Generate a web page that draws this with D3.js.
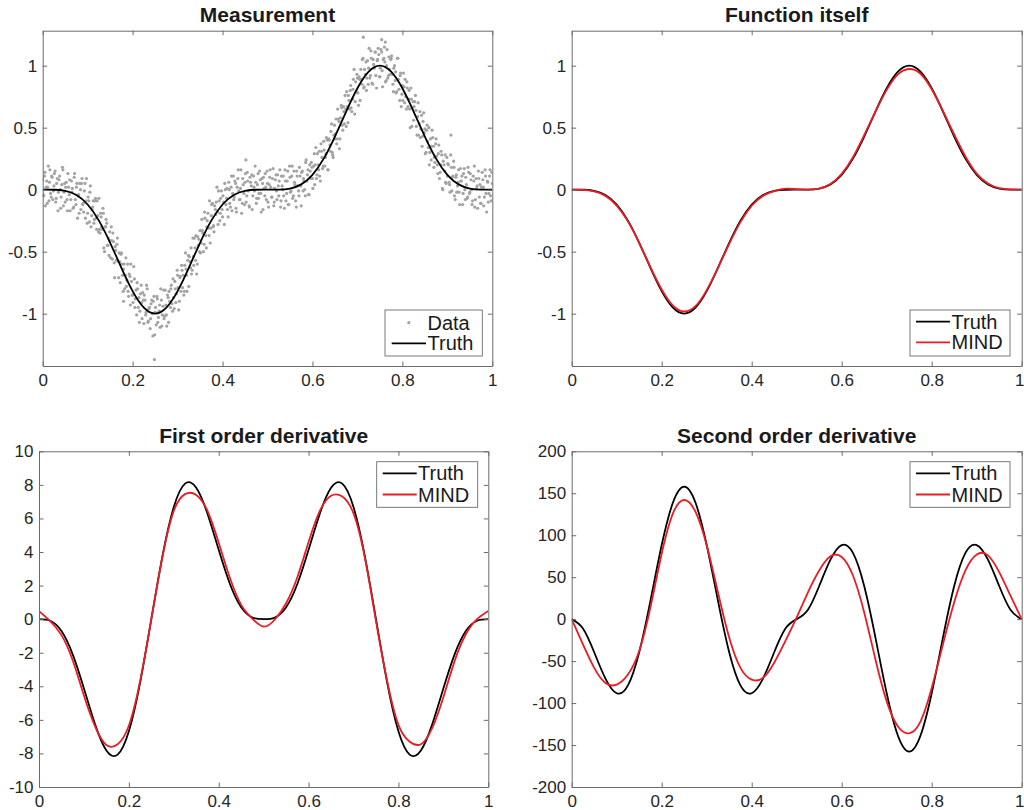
<!DOCTYPE html>
<html lang="en">
<head>
<meta charset="UTF-8">
<title>Measurement and derivatives</title>
<script src="https://d3js.org/d3.v7.min.js"></script>
<style>
  body { margin: 0; background: #fff; }
  svg { display: block; font-family: "Liberation Sans", Arial, Helvetica, sans-serif; }
  .tick text { fill: #262626; font-size: 17px; font-family: "Liberation Sans", Arial, Helvetica, sans-serif; }
  .axis path, .axis line { stroke: #6b6b6b; }
  .title { font-weight: bold; font-size: 21px; fill: #1a1a1a; }
  .legend text { font-size: 20px; fill: #1a1a1a; }
</style>
</head>
<body>
<div id="chart"></div>
<script>
// sample grid for the smooth curves
const xGrid = [0, 0.025, 0.05, 0.075, 0.1, 0.125, 0.15, 0.175, 0.2, 0.225, 0.25,
  0.275, 0.3, 0.325, 0.35, 0.375, 0.4, 0.425, 0.45, 0.475, 0.5,
  0.525, 0.55, 0.575, 0.6, 0.625, 0.65, 0.675, 0.7, 0.725, 0.75,
  0.775, 0.8, 0.825, 0.85, 0.875, 0.9, 0.925, 0.95, 0.975, 1];

// function itself
const truthF = [0, -0.0006, -0.0091, -0.0425, -0.1194, -0.25, -0.4284, -0.6303, -0.8182, -0.9517, -1,
  -0.9517, -0.8182, -0.6303, -0.4284, -0.25, -0.1194, -0.0425, -0.0091, -0.0006, 0,
  0.0006, 0.0091, 0.0425, 0.1194, 0.25, 0.4284, 0.6303, 0.8182, 0.9517, 1,
  0.9517, 0.8182, 0.6303, 0.4284, 0.25, 0.1194, 0.0425, 0.0091, 0.0006, 0];
const mindF = [0, -0.002, -0.014, -0.05, -0.128, -0.256, -0.43, -0.625, -0.805, -0.935, -0.982,
  -0.94, -0.81, -0.63, -0.437, -0.262, -0.13, -0.05, -0.012, 0.008, 0.004,
  0.0, 0.008, 0.045, 0.128, 0.262, 0.44, 0.63, 0.805, 0.93, 0.973,
  0.935, 0.81, 0.635, 0.445, 0.268, 0.13, 0.05, 0.012, 0.002, 0];

// first order derivative
const truthD1 = [0, -0.095, -0.705, -2.095, -4.13, -6.283, -7.822, -8.072, -6.681, -3.788, 0,
  3.788, 6.681, 8.072, 7.822, 6.283, 4.13, 2.095, 0.705, 0.095, 0,
  0.095, 0.705, 2.095, 4.13, 6.283, 7.822, 8.072, 6.681, 3.788, 0,
  -3.788, -6.681, -8.072, -7.822, -6.283, -4.13, -2.095, -0.705, -0.095, 0];
const mindD1 = [0.48, -0.12, -0.95, -2.45, -4.55, -6.4, -7.5, -7.45, -6.35, -3.7, 0,
  3.75, 6.45, 7.45, 7.4, 6.45, 4.55, 2.45, 0.85, 0.02, -0.45,
  -0.02, 0.95, 2.5, 4.6, 6.45, 7.35, 7.3, 6.3, 3.7, -0.1,
  -3.7, -6.3, -7.3, -7.45, -6.5, -4.65, -2.5, -0.9, 0.0, 0.49];

// second order derivative
const truthD2 = [0, -11.21, -39.48, -70.81, -88.28, -78.96, -39.48, 22.01, 88.28, 138.95, 157.91,
  138.95, 88.28, 22.01, -39.48, -78.96, -88.28, -70.81, -39.48, -11.21, 0,
  11.21, 39.48, 70.81, 88.28, 78.96, 39.48, -22.01, -88.28, -138.95, -157.91,
  -138.95, -88.28, -22.01, 39.48, 78.96, 88.28, 70.81, 39.48, 11.21, 0];
const mindD2 = [0, -30, -58, -76, -78, -66, -38, 14, 78, 126, 142,
  128, 88, 32, -22, -58, -72, -70, -52, -26, 2,
  32, 58, 75, 74, 52, 8, -48, -98, -128, -136,
  -122, -82, -30, 20, 58, 77, 76, 56, 28, 0];

// noisy measurement [x, y]
const measurement = [
  [0,0.08],[0.0025,-0.05],[0.005,0.14],[0.0075,0.02],[0.01,-0.11],[0.0125,0.19],[0.015,0.06],[0.0175,-0.03],[0.02,0.11],[0.0225,-0.08],
  [0.025,0.03],[0.0275,0.15],[0.03,-0.07],[0.0325,0.09],[0.035,-0.02],[0.0375,0.11],[0.04,-0.15],[0.0425,0.04],[0.045,0.16],[0.0475,-0.02],
  [0.05,-0.10],[0.0525,0.06],[0.055,-0.17],[0.0575,0.02],[0.06,0.08],[0.0625,-0.08],[0.065,-0.02],[0.0675,-0.15],[0.07,0.10],[0.0725,-0.08],
  [0.075,0.02],[0.0775,-0.23],[0.08,-0.04],[0.0825,0.05],[0.085,-0.16],[0.0875,0.09],[0.09,-0.11],[0.0925,-0.01],[0.095,-0.23],[0.0975,0.09],
  [0.1,-0.19],[0.1025,-0.09],[0.105,-0.02],[0.1075,-0.30],[0.11,-0.16],[0.1125,-0.09],[0.115,-0.24],[0.1175,-0.07],[0.12,-0.32],[0.1225,-0.21],
  [0.125,-0.07],[0.1275,-0.35],[0.13,-0.22],[0.1325,-0.32],[0.135,-0.19],[0.1375,-0.50],[0.14,-0.30],[0.1425,-0.27],[0.145,-0.45],[0.1475,-0.53],
  [0.15,-0.41],[0.1525,-0.30],[0.155,-0.56],[0.1575,-0.42],[0.16,-0.71],[0.1625,-0.49],[0.165,-0.44],[0.1675,-0.58],[0.17,-0.51],[0.1725,-0.75],
  [0.175,-0.51],[0.1775,-0.69],[0.18,-0.64],[0.1825,-0.80],[0.185,-0.55],[0.1875,-0.73],[0.19,-0.82],[0.1925,-0.68],[0.195,-0.93],[0.1975,-0.74],
  [0.2,-0.85],[0.2025,-0.62],[0.205,-0.95],[0.2075,-0.81],[0.21,-0.75],[0.2125,-0.95],[0.215,-1.07],[0.2175,-0.84],[0.22,-0.91],[0.2225,-0.83],
  [0.225,-1.08],[0.2275,-0.89],[0.23,-0.99],[0.2325,-0.80],[0.235,-1.06],[0.2375,-0.95],[0.24,-1.04],[0.2425,-0.89],[0.245,-1.18],[0.2475,-0.86],
  [0.25,-0.99],[0.2525,-1.09],[0.255,-0.88],[0.2575,-1.03],[0.26,-0.93],[0.2625,-0.80],[0.265,-1.10],[0.2675,-0.94],[0.27,-1.04],[0.2725,-0.81],
  [0.275,-1.01],[0.2775,-0.85],[0.28,-1.07],[0.2825,-0.90],[0.285,-0.80],[0.2875,-0.92],[0.29,-0.72],[0.2925,-0.96],[0.295,-0.80],[0.2975,-0.84],
  [0.3,-0.69],[0.3025,-0.97],[0.305,-0.71],[0.3075,-0.82],[0.31,-0.65],[0.3125,-0.69],[0.315,-0.82],[0.3175,-0.51],[0.32,-0.69],[0.3225,-0.57],
  [0.325,-0.78],[0.3275,-0.58],[0.33,-0.47],[0.3325,-0.65],[0.335,-0.54],[0.3375,-0.39],[0.34,-0.57],[0.3425,-0.68],[0.345,-0.38],[0.3475,-0.40],
  [0.35,-0.33],[0.3525,-0.43],[0.355,-0.33],[0.3575,-0.50],[0.36,-0.18],[0.3625,-0.37],[0.365,-0.30],[0.3675,-0.19],[0.37,-0.37],[0.3725,-0.43],
  [0.375,-0.21],[0.3775,-0.11],[0.38,-0.29],[0.3825,-0.13],[0.385,-0.20],[0.3875,0.02],[0.39,-0.28],[0.3925,-0.09],[0.395,-0.19],[0.3975,-0.01],
  [0.4,-0.22],[0.4025,-0.10],[0.405,0.05],[0.4075,-0.12],[0.41,0.01],[0.4125,-0.22],[0.415,0.00],[0.4175,-0.14],[0.42,0.11],[0.4225,-0.03],
  [0.425,-0.08],[0.4275,0.07],[0.43,-0.15],[0.4325,0.02],[0.435,0.16],[0.4375,-0.08],[0.44,0.01],[0.4425,-0.19],[0.445,0.09],[0.4475,-0.03],
  [0.45,0.06],[0.4525,-0.10],[0.455,0.14],[0.4575,-0.01],[0.46,-0.14],[0.4625,0.06],[0.465,0.12],[0.4675,-0.05],[0.47,0.02],[0.4725,0.19],
  [0.475,-0.11],[0.4775,0.04],[0.48,-0.07],[0.4825,0.15],[0.485,-0.03],[0.4875,0.09],[0.49,-0.16],[0.4925,0.01],[0.495,0.13],[0.4975,-0.08],
  [0.5,0.05],[0.5025,-0.14],[0.505,0.10],[0.5075,0.02],[0.51,-0.06],[0.5125,0.17],[0.515,-0.10],[0.5175,0.08],[0.52,-0.01],[0.5225,0.12],
  [0.525,-0.05],[0.5275,0.16],[0.53,-0.09],[0.5325,0.03],[0.535,0.11],[0.5375,-0.15],[0.54,0.07],[0.5425,-0.03],[0.545,0.15],[0.5475,-0.12],
  [0.55,0.10],[0.5525,-0.01],[0.555,0.19],[0.5575,-0.05],[0.56,0.06],[0.5625,-0.09],[0.565,0.15],[0.5675,0.03],[0.57,-0.05],[0.5725,0.11],
  [0.575,-0.13],[0.5775,0.15],[0.58,0.09],[0.5825,0.00],[0.585,0.22],[0.5875,0.07],[0.59,0.16],[0.5925,-0.04],[0.595,0.15],[0.5975,0.22],
  [0.6,0.09],[0.6025,0.19],[0.605,0.04],[0.6075,0.34],[0.61,0.12],[0.6125,0.20],[0.615,0.31],[0.6175,0.07],[0.62,0.31],[0.6225,0.17],
  [0.625,0.39],[0.6275,0.19],[0.63,0.29],[0.6325,0.40],[0.635,0.16],[0.6375,0.40],[0.64,0.31],[0.6425,0.53],[0.645,0.28],[0.6475,0.44],
  [0.65,0.41],[0.6525,0.57],[0.655,0.41],[0.6575,0.57],[0.66,0.33],[0.6625,0.58],[0.665,0.66],[0.6675,0.48],[0.67,0.63],[0.6725,0.76],
  [0.675,0.51],[0.6775,0.67],[0.68,0.76],[0.6825,0.65],[0.685,0.84],[0.6875,0.63],[0.69,0.81],[0.6925,0.97],[0.695,0.71],[0.6975,0.79],
  [0.7,0.90],[0.7025,0.68],[0.705,0.89],[0.7075,0.97],[0.71,0.85],[0.7125,1.06],[0.715,0.83],[0.7175,0.93],[0.72,0.80],[0.7225,1.04],
  [0.725,0.98],[0.7275,0.90],[0.73,1.12],[0.7325,0.86],[0.735,1.05],[0.7375,0.98],[0.74,1.11],[0.7425,0.82],[0.745,1.05],[0.7475,1.09],
  [0.75,0.91],[0.7525,1.13],[0.755,0.96],[0.7575,1.05],[0.76,1.15],[0.7625,0.87],[0.765,1.00],[0.7675,0.90],[0.77,1.07],[0.7725,0.93],
  [0.775,1.06],[0.7775,0.93],[0.78,0.79],[0.7825,1.00],[0.785,0.95],[0.7875,0.79],[0.79,1.06],[0.7925,0.81],[0.795,0.92],[0.7975,0.67],
  [0.8,0.84],[0.8025,0.94],[0.805,0.70],[0.8075,0.75],[0.81,0.87],[0.8125,0.67],[0.815,0.80],[0.8175,0.50],[0.82,0.73],[0.8225,0.66],
  [0.825,0.56],[0.8275,0.71],[0.83,0.64],[0.8325,0.44],[0.835,0.70],[0.8375,0.53],[0.84,0.42],[0.8425,0.60],[0.845,0.43],[0.8475,0.62],
  [0.85,0.49],[0.8525,0.30],[0.855,0.52],[0.8575,0.34],[0.86,0.20],[0.8625,0.41],[0.865,0.35],[0.8675,0.42],[0.87,0.18],[0.8725,0.22],
  [0.875,0.41],[0.8775,0.20],[0.88,0.29],[0.8825,0.09],[0.885,0.20],[0.8875,0.28],[0.89,0.00],[0.8925,0.20],[0.895,0.28],[0.8975,0.05],
  [0.9,0.11],[0.9025,0.20],[0.905,0.04],[0.9075,0.28],[0.91,-0.01],[0.9125,0.11],[0.915,0.18],[0.9175,-0.08],[0.92,0.12],[0.9225,0.03],
  [0.925,0.16],[0.9275,-0.12],[0.93,0.07],[0.9325,0.11],[0.935,-0.03],[0.9375,0.17],[0.94,-0.08],[0.9425,0.04],[0.945,-0.06],[0.9475,0.14],
  [0.95,-0.02],[0.9525,0.08],[0.955,-0.12],[0.9575,0.11],[0.96,0.19],[0.9625,-0.08],[0.965,0.01],[0.9675,-0.15],[0.97,0.09],[0.9725,0.04],
  [0.975,-0.11],[0.9775,0.14],[0.98,0.02],[0.9825,-0.06],[0.985,0.11],[0.9875,-0.18],[0.99,0.06],[0.9925,-0.03],[0.995,0.16],[0.9975,-0.09],
  [1,0.05],
  [0.2485,-1.37],[0.713,1.23],[0.754,1.21],[0.762,1.19],[0.908,0.44],[0.452,0.24],[0.18,-0.9],
  [0.001,-0.04],[0.004,0.11],[0.006,-0.13],[0.009,0.07],[0.011,0.02],[0.014,-0.09],[0.016,0.16],[0.019,-0.06],[0.021,0.10],[0.024,-0.01],
  [0.026,0.13],[0.029,-0.10],[0.031,0.05],[0.034,-0.17],[0.036,0.08],[0.039,0.00],[0.041,-0.06],[0.044,0.18],[0.046,-0.13],[0.049,0.05],
  [0.051,0.02],[0.054,-0.08],[0.056,0.13],[0.059,-0.04],[0.061,-0.17],[0.064,0.07],[0.066,0.01],[0.069,-0.14],[0.071,0.13],[0.074,-0.12],
  [0.076,0.05],[0.079,-0.05],[0.081,-0.19],[0.084,0.00],[0.086,0.05],[0.089,-0.12],[0.091,-0.18],[0.094,0.05],[0.096,-0.09],[0.099,-0.27],
  [0.101,-0.06],[0.104,-0.26],[0.106,0.03],[0.109,-0.21],[0.111,-0.14],[0.114,-0.27],[0.116,-0.09],[0.119,-0.23],[0.121,-0.09],[0.124,-0.34],
  [0.126,-0.32],[0.129,-0.19],[0.131,-0.30],[0.134,-0.15],[0.136,-0.47],[0.139,-0.30],[0.141,-0.24],[0.144,-0.45],[0.146,-0.39],[0.149,-0.34],
  [0.151,-0.55],[0.154,-0.41],[0.156,-0.35],[0.159,-0.59],[0.161,-0.46],[0.164,-0.57],[0.166,-0.39],[0.169,-0.71],[0.171,-0.58],[0.174,-0.52],
  [0.176,-0.60],[0.179,-0.82],[0.181,-0.60],[0.184,-0.69],[0.186,-0.78],[0.189,-0.60],[0.191,-0.86],[0.194,-0.70],[0.196,-0.60],[0.199,-0.85],
  [0.201,-0.91],[0.204,-0.72],[0.206,-0.88],[0.209,-1.01],[0.211,-0.80],[0.214,-0.87],[0.216,-0.98],[0.219,-0.77],[0.221,-1.04],[0.224,-0.89],
  [0.226,-0.85],[0.229,-1.01],[0.231,-0.77],[0.234,-1.07],[0.236,-0.96],[0.239,-1.12],[0.241,-0.92],[0.244,-1.00],[0.246,-0.90],[0.249,-1.17],
  [0.251,-0.95],[0.254,-0.86],[0.256,-1.07],[0.259,-0.98],[0.261,-1.11],[0.264,-0.89],[0.266,-1.01],[0.269,-0.81],[0.271,-1.02],[0.274,-0.93],
  [0.276,-1.10],[0.279,-0.87],[0.281,-0.82],[0.284,-0.95],[0.286,-0.77],[0.289,-0.98],[0.291,-0.87],[0.294,-0.74],[0.296,-0.91],[0.299,-0.65],
  [0.301,-0.79],[0.304,-0.90],[0.306,-0.70],[0.309,-0.61],[0.311,-0.79],[0.314,-0.85],[0.316,-0.61],[0.319,-0.64],[0.321,-0.82],[0.324,-0.53],
  [0.326,-0.54],[0.329,-0.63],[0.331,-0.68],[0.334,-0.39],[0.336,-0.61],[0.339,-0.47],[0.341,-0.37],[0.344,-0.60],[0.346,-0.45],[0.349,-0.50],
  [0.351,-0.51],[0.354,-0.24],[0.356,-0.35],[0.359,-0.44],[0.361,-0.23],[0.364,-0.47],[0.366,-0.25],[0.369,-0.31],[0.371,-0.09],[0.374,-0.31],
  [0.376,-0.12],[0.379,-0.30],[0.381,-0.34],[0.384,-0.16],[0.386,-0.10],[0.389,-0.18],[0.391,-0.01],[0.394,-0.25],[0.396,-0.07],[0.399,-0.16],
  [0.401,-0.05],[0.404,-0.28],[0.406,0.00],[0.409,-0.07],[0.411,-0.16],[0.414,0.06],[0.416,-0.11],[0.419,0.02],[0.421,-0.17],[0.424,0.11],
  [0.426,-0.06],[0.429,0.05],[0.431,-0.18],[0.434,0.09],[0.436,-0.01],[0.439,-0.08],[0.441,0.16],[0.444,-0.11],[0.446,0.04],[0.449,-0.12],
  [0.451,0.13],[0.454,-0.05],[0.456,0.07],[0.459,-0.13],[0.461,0.10],[0.464,0.03],[0.466,-0.16],[0.469,0.11],[0.471,-0.01],[0.474,0.06],
  [0.476,-0.07],[0.479,0.13],[0.481,-0.03],[0.484,0.08],[0.486,-0.18],[0.489,0.05],[0.491,0.10],[0.494,-0.05],[0.496,0.02],[0.499,0.15],
  [0.501,-0.10],[0.504,0.04],[0.506,0.16],[0.509,-0.06],[0.511,0.09],[0.514,-0.13],[0.516,0.01],[0.519,0.12],[0.521,-0.08],[0.524,0.03],
  [0.526,0.07],[0.529,-0.14],[0.531,0.11],[0.534,0.00],[0.536,-0.05],[0.539,0.16],[0.541,-0.09],[0.544,0.07],[0.546,-0.12],[0.549,0.19],
  [0.551,-0.02],[0.554,0.11],[0.556,-0.07],[0.559,0.15],[0.561,0.04],[0.564,-0.14],[0.566,0.11],[0.569,-0.01],[0.571,0.18],[0.574,0.03],
  [0.576,0.14],[0.579,-0.01],[0.581,0.07],[0.584,-0.05],[0.586,0.24],[0.589,0.12],[0.591,-0.04],[0.594,0.20],[0.596,0.09],[0.599,0.18],
  [0.601,0.01],[0.604,0.29],[0.606,0.20],[0.609,0.09],[0.611,0.29],[0.614,0.16],[0.616,0.11],[0.619,0.37],[0.621,0.26],[0.624,0.19],
  [0.626,0.32],[0.629,0.26],[0.631,0.42],[0.634,0.16],[0.636,0.41],[0.639,0.36],[0.641,0.47],[0.644,0.30],[0.646,0.26],[0.649,0.52],
  [0.651,0.45],[0.654,0.37],[0.656,0.65],[0.659,0.55],[0.661,0.41],[0.664,0.68],[0.666,0.52],[0.669,0.67],[0.671,0.53],[0.674,0.65],
  [0.676,0.79],[0.679,0.54],[0.681,0.72],[0.684,0.80],[0.686,0.66],[0.689,0.73],[0.691,0.89],[0.694,0.61],[0.696,0.87],[0.699,0.93],
  [0.701,0.78],[0.704,0.91],[0.706,0.72],[0.709,0.89],[0.711,1.05],[0.714,0.82],[0.716,0.97],[0.719,1.03],[0.721,0.90],[0.724,0.85],
  [0.726,1.14],[0.729,0.92],[0.731,1.06],[0.734,0.85],[0.736,1.01],[0.739,1.11],[0.741,0.92],[0.744,1.04],[0.746,1.14],[0.749,0.91],
  [0.751,0.98],[0.754,1.11],[0.756,0.83],[0.759,1.06],[0.761,1.03],[0.764,0.88],[0.766,1.13],[0.769,0.92],[0.771,0.97],[0.774,1.05],
  [0.776,1.08],[0.779,0.85],[0.781,0.98],[0.784,0.88],[0.786,0.78],[0.789,1.06],[0.791,0.89],[0.794,0.72],[0.796,0.94],[0.799,0.77],
  [0.801,0.72],[0.804,0.83],[0.806,0.89],[0.809,0.65],[0.811,0.82],[0.814,0.73],[0.816,0.65],[0.819,0.82],[0.821,0.51],[0.824,0.71],
  [0.826,0.67],[0.829,0.76],[0.831,0.51],[0.834,0.59],[0.836,0.44],[0.839,0.63],[0.841,0.49],[0.844,0.35],[0.846,0.55],[0.849,0.46],
  [0.851,0.29],[0.854,0.48],[0.856,0.39],[0.859,0.50],[0.861,0.30],[0.864,0.24],[0.866,0.48],[0.869,0.35],[0.871,0.26],[0.874,0.37],
  [0.876,0.27],[0.879,0.13],[0.881,0.36],[0.884,0.14],[0.886,0.31],[0.889,0.01],[0.891,0.23],[0.894,0.15],[0.896,0.06],[0.899,0.26],
  [0.901,0.21],[0.904,0.06],[0.906,-0.02],[0.909,0.18],[0.911,0.10],[0.914,0.23],[0.916,-0.05],[0.919,0.10],[0.921,-0.02],[0.924,0.06],
  [0.926,-0.02],[0.929,0.17],[0.931,0.07],[0.934,-0.12],[0.936,0.13],[0.939,0.00],[0.941,0.10],[0.944,-0.07],[0.946,0.18],[0.949,-0.03],
  [0.951,0.13],[0.954,0.00],[0.956,-0.09],[0.959,0.07],[0.961,-0.14],[0.964,0.09],[0.966,0.03],[0.969,0.15],[0.971,-0.06],[0.974,-0.11],
  [0.976,0.02],[0.979,0.08],[0.981,-0.13],[0.984,0.16],[0.986,-0.03],[0.989,0.07],[0.991,-0.10],[0.994,0.11],[0.996,-0.05],[0.999,0.14]
];

const xTicks = [0, 0.2, 0.4, 0.6, 0.8, 1];
const yTicksF = [-1, -0.5, 0, 0.5, 1];
const yTicksD1 = [-10, -8, -6, -4, -2, 0, 2, 4, 6, 8, 10];
const yTicksD2 = [-200, -150, -100, -50, 0, 50, 100, 150, 200];

const BLACK = "#000000";
const RED = "#ec1c24";
const GREY = "#a3a3a3";

const panels = [
  { title: "Measurement", left: 42.7, right: 492.3, top: 30.7, bottom: 366,
    yDomain: [-1.422, 1.282], yTicks: yTicksF, points: measurement,
    series: [{ values: truthF, color: BLACK }],
    legend: { box: [385, 310, 482.3, 356], x0: 391.7, x1: 426, tx: 427.5,
      items: [{ kind: "dot", y: 322.7, label: "Data" }, { kind: "line", color: BLACK, y: 343.3, label: "Truth" }] } },
  { title: "Function itself", left: 571.7, right: 1021.7, top: 30.7, bottom: 366,
    yDomain: [-1.422, 1.282], yTicks: yTicksF,
    series: [{ values: truthF, color: BLACK }, { values: mindF, color: RED }],
    legend: { box: [910, 310, 1010, 356], x0: 916, x1: 950, tx: 951.5,
      items: [{ kind: "line", color: BLACK, y: 321.7, label: "Truth" }, { kind: "line", color: RED, y: 342.3, label: "MIND" }] } },
  { title: "First order derivative", left: 39, right: 488.3, top: 451.3, bottom: 787,
    yDomain: [-10, 10], yTicks: yTicksD1,
    series: [{ values: truthD1, color: BLACK }, { values: mindD1, color: RED }],
    legend: { box: [376.7, 461.7, 477.7, 507.3], x0: 382.7, x1: 416.7, tx: 418,
      items: [{ kind: "line", color: BLACK, y: 473.3, label: "Truth" }, { kind: "line", color: RED, y: 494.5, label: "MIND" }] } },
  { title: "Second order derivative", left: 571.7, right: 1021.7, top: 451.3, bottom: 787,
    yDomain: [-200, 200], yTicks: yTicksD2,
    series: [{ values: truthD2, color: BLACK }, { values: mindD2, color: RED }],
    legend: { box: [910, 461.7, 1010, 507.3], x0: 916, x1: 950, tx: 951.5,
      items: [{ kind: "line", color: BLACK, y: 473.3, label: "Truth" }, { kind: "line", color: RED, y: 494.5, label: "MIND" }] } }
];

const svg = d3.select("#chart").append("svg")
  .attr("width", 1024).attr("height", 810);

const tickLen = 4.5;

panels.forEach((p, i) => {
  const x = d3.scaleLinear().domain([0, 1]).range([p.left, p.right]);
  const y = d3.scaleLinear().domain(p.yDomain).range([p.bottom, p.top]);
  const g = svg.append("g");

  const clipId = "clip" + i;
  svg.append("clipPath").attr("id", clipId).append("rect")
    .attr("x", p.left).attr("y", p.top)
    .attr("width", p.right - p.left).attr("height", p.bottom - p.top);
  const plot = g.append("g").attr("clip-path", `url(#${clipId})`);

  if (p.points) {
    plot.selectAll("circle").data(p.points).join("circle")
      .attr("cx", d => x(d[0]))
      .attr("cy", d => y(d[1]))
      .attr("r", 1.6)
      .attr("fill", GREY);
  }

  const line = d3.line().x(d => x(d[0])).y(d => y(d[1])).curve(d3.curveNatural);
  p.series.forEach(s => {
    plot.append("path")
      .datum(xGrid.map((xv, k) => [xv, s.values[k]]))
      .attr("d", line)
      .attr("fill", "none")
      .attr("stroke", s.color)
      .attr("stroke-width", 1.8);
  });

  // box with inward ticks on all four sides
  const bottomAxis = g.append("g").attr("class", "axis")
    .attr("transform", `translate(0,${p.bottom})`)
    .call(d3.axisBottom(x).tickValues(xTicks).tickSize(-tickLen).tickSizeOuter(0)
      .tickPadding(8).tickFormat(d => String(d)));
  // keep the last label inside the page on the right-hand panels
  if (p.right > 1015) {
    bottomAxis.selectAll(".tick text").attr("dx", d => d === 1 ? -2.5 : 0);
  }
  g.append("g").attr("class", "axis")
    .attr("transform", `translate(0,${p.top})`)
    .call(d3.axisTop(x).tickValues(xTicks).tickSize(-tickLen).tickSizeOuter(0).tickFormat(""));
  g.append("g").attr("class", "axis")
    .attr("transform", `translate(${p.left},0)`)
    .call(d3.axisLeft(y).tickValues(p.yTicks).tickSize(-tickLen).tickSizeOuter(0)
      .tickPadding(5.5).tickFormat(d => String(d)));
  g.append("g").attr("class", "axis")
    .attr("transform", `translate(${p.right},0)`)
    .call(d3.axisRight(y).tickValues(p.yTicks).tickSize(-tickLen).tickSizeOuter(0).tickFormat(""));

  g.append("text").attr("class", "title")
    .attr("x", (p.left + p.right) / 2)
    .attr("y", p.top - 8.3)
    .attr("text-anchor", "middle")
    .text(p.title);

  // legend
  const lg = g.append("g").attr("class", "legend");
  const b = p.legend.box;
  lg.append("rect")
    .attr("x", b[0]).attr("y", b[1])
    .attr("width", b[2] - b[0]).attr("height", b[3] - b[1])
    .attr("fill", "#fff").attr("stroke", "#6b6b6b").attr("stroke-width", 0.9);
  p.legend.items.forEach(it => {
    if (it.kind === "dot") {
      lg.append("circle")
        .attr("cx", (p.legend.x0 + p.legend.x1) / 2).attr("cy", it.y)
        .attr("r", 1.6).attr("fill", GREY);
    } else {
      lg.append("line")
        .attr("x1", p.legend.x0).attr("x2", p.legend.x1)
        .attr("y1", it.y).attr("y2", it.y)
        .attr("stroke", it.color).attr("stroke-width", 1.8);
    }
    lg.append("text")
      .attr("x", p.legend.tx).attr("y", it.y + 7)
      .text(it.label);
  });
});
</script>
</body>
</html>
